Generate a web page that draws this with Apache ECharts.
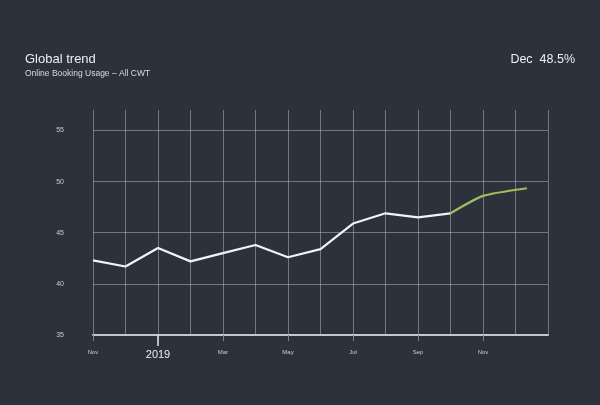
<!DOCTYPE html>
<html><head><meta charset="utf-8">
<script src="https://cdn.jsdelivr.net/npm/echarts@6/dist/echarts.min.js"></script>
<style>html,body{margin:0;padding:0;background:#2c323c;}#c{width:600px;height:405px;}</style>
</head><body><div id="c"></div>
<script>
const monthLabels = ['Nov','Dec','2019','Feb','Mar','Apr','May','Jun','Jul','Aug','Sep','Oct','Nov','Dec','Jan'];
const labeledMonths = [0,2,4,6,8,10,12];
const yTicks = [35,40,45,50,55];
const actualX = [0,1,2,3,4,5,6,7,8,9,10,11];
const actualY = [42.3,41.7,43.5,42.2,43.0,43.8,42.6,43.4,45.9,46.9,46.5,46.9];
const trendX = [11,12,13.35];
const trendY = [46.9,48.6,49.35];
const titleText = 'Global trend';
const subtitleText = 'Online Booking Usage \u2013 All CWT';
const headlineText = 'Dec  48.5%';

const font = '"Liberation Sans", Arial, sans-serif';
const gridColor = 'rgba(200,204,210,0.45)';
const chart = echarts.init(document.getElementById('c'));
chart.setOption({
  backgroundColor: '#2c323c',
  animation: false,
  title: [
    {text: titleText, left: 20, top: 48, textStyle: {color: '#eceef0', fontSize: 13, fontWeight: 'normal', fontFamily: font},
     subtext: subtitleText, subtextStyle: {color: '#d8dbde', fontSize: 8.5, fontFamily: font}, itemGap: 3},
    {text: headlineText, right: 20, top: 48, textStyle: {color: '#eceef0', fontSize: 12.5, fontWeight: 'normal', fontFamily: font}}
  ],
  grid: {left: 93, right: 52, top: 110, bottom: 70},
  xAxis: [{
    type: 'value', min: 0, max: 14, interval: 1,
    axisLine: {show: true, lineStyle: {color: '#c4c7cc', width: 2}},
    axisTick: {show: true, customValues: labeledMonths, length: 6, lineStyle: {color: '#7d828b', width: 1}},
    axisLabel: {customValues: labeledMonths, margin: 14,
      formatter: v => { const l = monthLabels[Math.round(v)]; return l === '2019' ? '{y|' + l + '}' : '{m|' + l + '}'; },
      rich: {m: {fontSize: 6, color: '#c9ccd1', fontFamily: font}, y: {fontSize: 11, color: '#eceef0', fontFamily: font, padding: [0,0,4,0]}}},
    splitLine: {show: false}
  }, {
    type: 'value', min: 0, max: 14, position: 'bottom',
    axisLine: {show: false},
    axisTick: {show: true, customValues: [2], length: 11, lineStyle: {color: '#e6e8ea', width: 1.5}},
    axisLabel: {show: false}, splitLine: {show: false}
  }, {
    type: 'value', min: 0, max: 14, interval: 1, position: 'bottom',
    axisLine: {show: false}, axisTick: {show: false}, axisLabel: {show: false},
    splitLine: {show: true, lineStyle: {color: gridColor, width: 1}}
  }],
  yAxis: {
    type: 'value', min: 35, max: 57, interval: 5,
    axisLine: {show: false}, axisTick: {show: false},
    axisLabel: {customValues: yTicks, margin: 29, fontSize: 7, color: '#c9ccd1', fontFamily: font},
    splitLine: {show: true, lineStyle: {color: ['rgba(0,0,0,0)', gridColor, gridColor, gridColor, gridColor, 'rgba(0,0,0,0)'], width: 1}}
  },
  series: [
    {type: 'line', data: actualX.map((x, i) => [x, actualY[i]]), symbol: 'none',
     lineStyle: {color: '#f2f3f4', width: 2.2}, z: 3},
    {type: 'line', data: trendX.map((x, i) => [x, trendY[i]]), symbol: 'none', smooth: 0.2,
     lineStyle: {color: '#9fbd5b', width: 2.2}, z: 3}
  ]
});
</script></body></html>
